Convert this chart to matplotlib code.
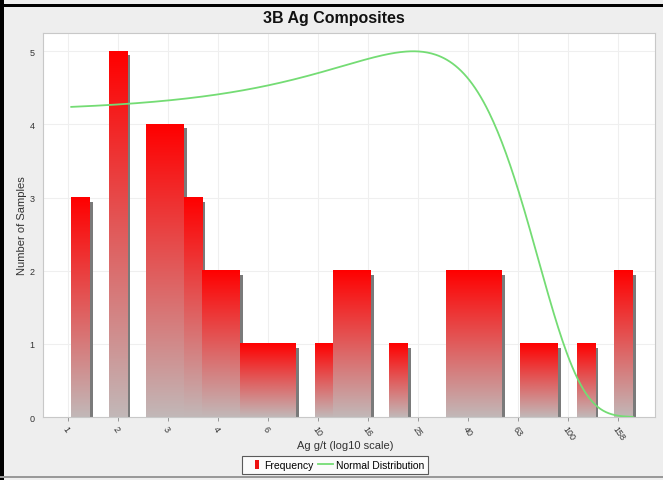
import numpy as np
import matplotlib
matplotlib.use("Agg")
import matplotlib.pyplot as plt
import matplotlib.transforms as mtransforms
from matplotlib.patches import Rectangle, Patch
from matplotlib.lines import Line2D

plt.rcParams['font.family'] = ['Liberation Sans', 'DejaVu Sans']

# Histogram of Ag grades, binned in log10 space (30 equal bins)
log_min = 0.012
log_max = 2.258
counts = [3, 0, 5, 0, 4, 4, 3, 2, 2, 1,
          1, 1, 0, 1, 2, 2, 0, 1, 0, 0,
          2, 2, 2, 0, 1, 1, 0, 1, 0, 2]

# Normal distribution fitted to the composites (g/t), scaled to the chart
norm_mean = 24.0
norm_sd = 40.0
norm_peak = 5.0

tick_logs = [0.0, 0.2, 0.4, 0.6, 0.8, 1.0, 1.2, 1.4, 1.6, 1.8, 2.0, 2.2]
tick_labels = ['1', '2', '3', '4', '6', '10', '16', '25', '40', '63', '100', '158']
y_ticks = [0, 1, 2, 3, 4, 5]

W, H, DPI = 663, 481, 100
fig = plt.figure(figsize=(W / DPI, H / DPI), dpi=DPI)
fig.patch.set_facecolor('#eeeeee')

ax = fig.add_axes([43 / W, 1 - 418 / H, (655 - 43) / W, (418 - 34) / H])
ax.set_facecolor('white')
ax.set_xlim(-0.101, 2.347)
ax.set_ylim(0, 5.25)

# faint grid
for t in tick_logs:
    ax.axvline(t, color='#efefef', lw=0.8, zorder=0)
for t in y_ticks[1:]:
    ax.axhline(t, color='#efefef', lw=0.8, zorder=0)

nbins = len(counts)
bw = (log_max - log_min) / nbins
edges = [log_min + k * bw for k in range(nbins + 1)]

# vertical gradient: red on top fading to light grey at the base
top = np.array([1.0, 0.0, 0.0])
bot = np.array([0.76, 0.72, 0.72])
g = np.linspace(0, 1, 256)[:, None]
grad = (top[None, :] * (1 - g) + bot[None, :] * g)[:, None, :]

shadow_tf = mtransforms.offset_copy(ax.transData, fig=fig, x=3, y=-4, units='dots')
for k, c in enumerate(counts):
    if c <= 0:
        continue
    x0, x1 = edges[k], edges[k + 1]
    ax.add_patch(Rectangle((x0, 0), x1 - x0, c, transform=shadow_tf,
                           facecolor='#7a7a7a', edgecolor='none', zorder=2 + k * 0.01))
    ax.imshow(grad, extent=(x0, x1, 0, c), origin='upper', aspect='auto',
              interpolation='bilinear', zorder=2.005 + k * 0.01)

# normal curve drawn over the data range
xs_log = np.linspace(log_min, log_max, 400)
xs = 10 ** xs_log
ys = norm_peak * np.exp(-0.5 * ((xs - norm_mean) / norm_sd) ** 2)
ax.plot(xs_log, ys, color='#74dc74', lw=1.3, zorder=5)

ax.set_xticks(tick_logs)
ax.set_xticklabels(tick_labels, rotation=-55, ha='left', va='top',
                   rotation_mode='anchor', fontsize=6.5, color='#333333')
ax.set_yticks(y_ticks)
ax.set_yticklabels([str(v) for v in y_ticks], fontsize=6.5, color='#333333')
ax.tick_params(axis='x', length=3, width=0.6, color='#888888', pad=2)
ax.tick_params(axis='y', length=0, pad=6)
for s in ax.spines.values():
    s.set_color('#c8c8c8')
    s.set_linewidth(0.8)

fig.text(345 / W, 1 - 446 / H, 'Ag g/t (log10 scale)', ha='center', va='center',
         fontsize=8, color='#333333')
fig.text(22 / W, 1 - 226 / H, 'Number of Samples', ha='center', va='center',
         rotation=90, fontsize=8, color='#333333')
fig.text(334 / W, 1 - 18 / H, '3B Ag Composites', ha='center', va='center',
         fontsize=11.5, fontweight='bold', color='#111111')

handles = [Patch(facecolor='#ee1010', edgecolor='none'),
           Line2D([], [], color='#74dc74', lw=1.3)]
leg = fig.legend(handles, ['Frequency', 'Normal Distribution'],
                 loc='center', bbox_to_anchor=(335 / W, 1 - 466 / H), ncol=2,
                 fontsize=7.5, frameon=True, fancybox=False, handlelength=1.5,
                 handleheight=0.9, handletextpad=0.3, columnspacing=0.4,
                 borderpad=0.35, borderaxespad=0)
leg.get_frame().set_edgecolor('#333333')
leg.get_frame().set_linewidth(0.8)
leg.get_frame().set_facecolor('white')
# slim the Frequency swatch to a narrow bar
sw = leg.legend_handles[0]
sw.set_width(sw.get_width() * 0.3)
sw.set_x(sw.get_x() + sw.get_width() * 2.0)

# outer frame lines
fig.add_artist(Rectangle((0, 0), 4 / W, 1, transform=fig.transFigure,
                         facecolor='black', edgecolor='none'))
fig.add_artist(Rectangle((0, 1 - 8 / H), 1, 3 / H, transform=fig.transFigure,
                         facecolor='black', edgecolor='none'))
fig.add_artist(Rectangle((0, 2 / H), 1, 2 / H, transform=fig.transFigure,
                         facecolor='#999999', edgecolor='none'))

fig.savefig('out.png', dpi=DPI, facecolor=fig.get_facecolor())
